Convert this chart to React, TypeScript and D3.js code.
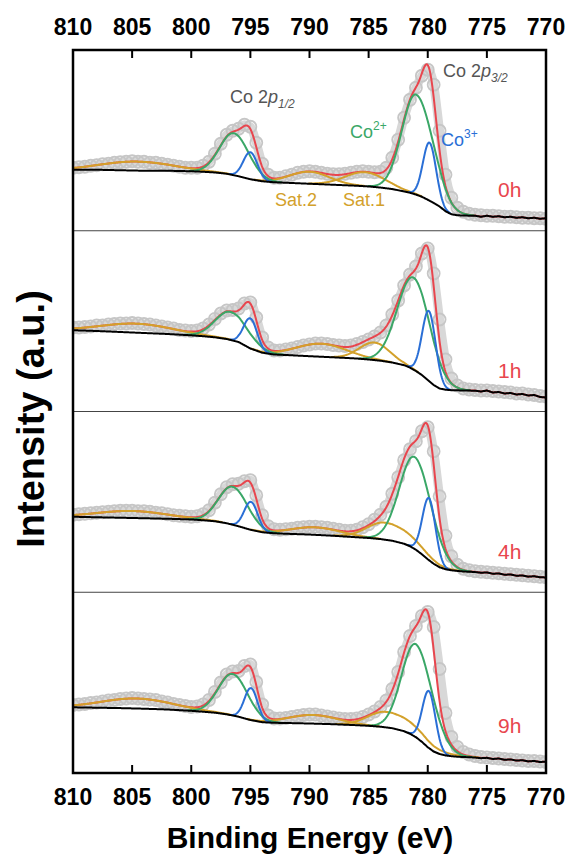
import React from "react";
import * as d3 from "d3";

// ---------- data ----------
const X_TICKS = [810, 805, 800, 795, 790, 785, 780, 775, 770];
const PANEL_LABELS = ["0h", "1h", "4h", "9h"];

// energies of the measured points: 810 -> 770 eV, step 0.5 eV
const DATA_E = d3.range(0, 81).map((i) => 810 - i * 0.5);

const DATA_0H = [
  63, 63.5, 64, 65, 65.5, 66.5, 67, 68, 68.5, 69,
  69.5, 69, 69, 68, 68, 67, 66, 65, 64, 63,
  63, 63, 65, 69, 77, 87, 96, 100, 102, 106,
  104, 88, 67, 56, 53, 53, 54.5, 56, 58, 59,
  59.5, 59, 58, 57, 56.5, 56.5, 57, 58, 59, 59.5,
  59, 58.5, 59, 63, 73, 91, 113, 131, 143, 155,
  161, 146, 100, 56, 33, 23, 19, 17, 16, 15.5,
  15, 15, 14.5, 14, 14, 13.5, 13, 13, 12.5, 12.5,
  12,
];
const DATA_1H = [
  84, 84, 84.5, 85, 86, 86, 87, 87.5, 88, 88,
  88.5, 88, 87.5, 87, 86, 85, 84, 83, 81.5, 81,
  80.5, 81, 83, 87, 92.5, 98, 101, 101.5, 103, 108,
  109, 94, 74, 64, 61, 61, 62, 63, 64.5, 66,
  67, 68, 68, 67.5, 66.5, 66, 65.5, 66, 67.5, 69.5,
  72, 75, 79, 86, 97, 111, 126, 137, 145, 158,
  163, 138, 92, 52, 33, 26, 23, 22, 21.5, 21,
  21, 20.5, 20, 19.5, 19, 18, 18, 17, 16.5, 15.5,
  15,
];
const DATA_4H = [
  77.5, 78, 78.5, 79, 79.5, 80, 80.5, 81, 81.5, 81.5,
  81.5, 81, 81, 80.5, 79.5, 79, 78, 77, 76.5, 76,
  75.5, 76, 78, 82, 89.5, 98, 105, 108, 108.5, 111,
  112, 97, 77, 66, 63, 62.5, 63, 63.5, 64.5, 65,
  65.5, 65.5, 65, 64.5, 63.5, 62.5, 61.5, 61.5, 62.5, 65,
  68, 72.5, 77.5, 85.5, 98.5, 115, 132, 143, 151, 161,
  165, 141, 96, 56.5, 36, 27.5, 23.5, 22, 21, 20.5,
  20, 19.5, 19, 18.5, 18, 17.5, 17, 16.5, 16, 15.5,
  15,
];
const DATA_9H = [
  68, 68.5, 69, 70, 70.5, 71.5, 72.5, 73, 74, 74.5,
  75, 74.5, 74, 73.5, 73, 71.5, 70.5, 69, 68, 67,
  66, 66.5, 68.5, 73, 81, 90.5, 98.5, 101.5, 102, 107,
  108.5, 91, 68.5, 57.5, 54.5, 54.5, 55, 56, 57, 58,
  58.5, 58.5, 57.5, 56.5, 55.5, 54.5, 54, 54, 54.5, 56,
  58.5, 61.5, 66, 72.5, 84, 101, 121, 137, 147, 157,
  161, 146, 104, 60, 36, 26, 21, 18.5, 17, 16,
  15.5, 15, 14.5, 14, 13.5, 13, 12.5, 12, 12, 11.5,
  11,
];

// Shirley-type background (black line)
const BG_E = [
  810, 808, 806, 804, 802, 800, 799, 798, 797, 796,
  795, 794, 793, 792, 790, 788, 786, 785, 784, 783,
  782, 781.5, 781, 780.5, 780, 779.5, 779, 778.5, 778, 777.5,
  777, 776, 775.5, 775, 774.5, 774, 773.5, 773, 772.5, 772,
  771.5, 771, 770.5, 770,
];
const BG_0H = [
  61, 61, 60.5, 60, 60, 59.5, 59, 58.3, 57, 54.5,
  51.5, 49.5, 48.5, 48, 47, 46, 45, 44.3, 43.2, 41.7,
  39.3, 38, 36.2, 34, 31, 27.8, 24.3, 19.5, 16.5, 15.5,
  15.2, 15, 14, 15, 14, 14.5, 13.5, 14, 13, 13.5,
  12.5, 13, 12, 12.5,
];
const BG_1H = [
  81.3, 80.5, 79.5, 78.5, 77.5, 76.2, 75.3, 74.2, 72.5, 69.5,
  63, 58.8, 57, 56.5, 55.3, 54.2, 53, 52, 50.8, 49,
  46.3, 43.8, 40.5, 36.5, 31.5, 26.5, 23, 21.8, 21.3, 21.2,
  21, 20.8, 20, 21, 19, 19.5, 18, 18.5, 17, 17.5,
  16, 16.5, 14.5, 14,
];
const BG_4H = [
  75.5, 75, 74.5, 74, 73.5, 72.8, 72, 71, 69, 66,
  62.5, 60, 59, 58.5, 57.7, 56.5, 55, 54.3, 53.2, 51.5,
  48.5, 46, 42.5, 38, 33, 28.5, 25, 23, 22, 21.3,
  20.8, 20.2, 19.5, 19.8, 18.5, 18.8, 17.5, 17.8, 16.5, 16.8,
  15.6, 16, 15, 14.8,
];
const BG_9H = [
  65.7, 65.3, 64.9, 64.3, 63.5, 62.2, 61.3, 60.3, 58.7, 56.3,
  53, 50.8, 50.2, 50, 49.5, 48.8, 47.8, 47.2, 46.3, 44.8,
  41.8, 39.2, 35.8, 31.2, 25.8, 21.5, 19, 17.6, 16.8, 16.3,
  16, 15.5, 14.8, 15.2, 14, 14.5, 13.2, 13.6, 12.4, 12.8,
  11.6, 12, 11, 11.4,
];

// fitted components: [centre eV, height, FWHM high-BE side, FWHM low-BE side]
const CO2_0H = [[781.0, 100, 2.8, 3.4], [796.4, 42, 2.8, 3.0]];
const CO3_0H = [[779.85, 58, 1.3, 1.3], [795.0, 27, 1.4, 1.4]];
const SAT_0H = [[785.3, 14, 4, 4], [790.0, 12, 4, 4], [804.6, 9, 7, 7]];

const CO2_1H = [[781.2, 92, 3.2, 3.3], [796.7, 28, 3.0, 3.5]];
const CO3_1H = [[779.9, 70, 1.35, 1.35], [795.0, 30, 1.35, 1.35]];
const SAT_1H = [[784.5, 17.5, 3, 3], [789.0, 13, 5, 5], [804.6, 9, 7, 7]];

const CO2_4H = [[781.1, 92, 3.0, 3.3], [796.5, 38, 2.8, 3.0]];
const CO3_4H = [[779.9, 62, 1.3, 1.3], [794.95, 28, 1.35, 1.35]];
const SAT_4H = [[783.6, 17, 3.6, 5.5], [789.5, 7.5, 5, 5], [805.0, 7, 7, 7]];

const CO2_9H = [[781.0, 93, 2.8, 3.3], [796.5, 41.5, 2.8, 3.0]];
const CO3_9H = [[779.9, 57, 1.3, 1.3], [794.95, 32, 1.3, 1.3]];
const SAT_9H = [[783.5, 15.5, 3.6, 6.5], [789.7, 8.6, 5, 5], [804.6, 10, 7, 7]];

// ---------- assembled for drawing ----------
const PANELS = [
  { label: PANEL_LABELS[0], data: DATA_0H, bg: BG_0H, co2: CO2_0H, co3: CO3_0H, sat: SAT_0H },
  { label: PANEL_LABELS[1], data: DATA_1H, bg: BG_1H, co2: CO2_1H, co3: CO3_1H, sat: SAT_1H },
  { label: PANEL_LABELS[2], data: DATA_4H, bg: BG_4H, co2: CO2_4H, co3: CO3_4H, sat: SAT_4H },
  { label: PANEL_LABELS[3], data: DATA_9H, bg: BG_9H, co2: CO2_9H, co3: CO3_9H, sat: SAT_9H },
];

const W = 571;
const H = 859;
const L = 73, R = 546, T = 50, B = 773;
const PH = (B - T) / 4;
const LABEL_H = [34, 34, 33, 40];

const RED = "#e8464e";
const GREEN = "#3aa767";
const BLUE = "#2a6fd6";
const GOLD = "#d3a12b";
const FONT = "'Liberation Sans', Arial, Helvetica, sans-serif";

const FINE_E = d3.range(0, 801).map((i) => 810 - i * 0.05);

function peak(E: number, p: number[]) {
  const [c, h, wHi, wLo] = p;
  const w = E >= c ? wHi : wLo;
  const d = (E - c) / w;
  return h * Math.exp(-4 * Math.LN2 * d * d);
}

export default function App() {
  const x = d3.scaleLinear().domain([810, 770]).range([L, R]);

  const panels = PANELS.map((p, i) => {
    const bottom = T + PH * (i + 1);
    const y = d3.scaleLinear().domain([0, PH]).range([bottom, bottom - PH]);
    const bg = d3.scaleLinear().domain(BG_E).range(p.bg).clamp(true);
    const line = d3
      .line<[number, number]>()
      .x((d) => x(d[0]))
      .y((d) => y(d[1]));
    const all = [...p.co2, ...p.co3, ...p.sat];
    const env = FINE_E.map((E) => [E, bg(E) + d3.sum(all, (q) => peak(E, q))] as [number, number]);
    const comp = (q: number[]) =>
      line(
        FINE_E.filter((E) => peak(E, q) > 0.25).map((E) => [E, bg(E) + peak(E, q)] as [number, number])
      );
    const bgLine = line(FINE_E.map((E) => [E, bg(E)] as [number, number]));
    const pts = DATA_E.map((E, k) => [E, p.data[k]] as [number, number]);
    const band = d3
      .line<[number, number]>()
      .x((d) => x(d[0]))
      .y((d) => y(d[1]))
      .curve(d3.curveMonotoneX)(pts);
    return { p, i, y, env: line(env), comp, bgLine, pts, band, bottom };
  });

  return (
    <svg
      width={W}
      height={H}
      viewBox={`0 0 ${W} ${H}`}
      style={{ position: "absolute", left: 0, top: 0, background: "#fff" }}
      fontFamily={FONT}
    >
      <defs>
        <clipPath id="plot">
          <rect x={L} y={T} width={R - L} height={B - T} />
        </clipPath>
      </defs>
      <rect x={0} y={0} width={W} height={H} fill="#fff" />
      <g clipPath="url(#plot)">
        {panels.map((pp) => (
          <g key={pp.p.label}>
            <path d={pp.band || ""} fill="none" stroke="#d8d8d8" strokeWidth={9} strokeLinejoin="round" />
            {pp.pts.map((d, k) => (
              <circle
                key={k}
                cx={x(d[0])}
                cy={pp.y(d[1])}
                r={6}
                fill="none"
                stroke="#c6c6c6"
                strokeWidth={1.8}
              />
            ))}
            <path d={pp.env || ""} fill="none" stroke={RED} strokeWidth={2} />
            {pp.p.sat.map((q, k) => (
              <path key={"s" + k} d={pp.comp(q) || ""} fill="none" stroke={GOLD} strokeWidth={2} />
            ))}
            {pp.p.co2.map((q, k) => (
              <path key={"g" + k} d={pp.comp(q) || ""} fill="none" stroke={GREEN} strokeWidth={2} />
            ))}
            {pp.p.co3.map((q, k) => (
              <path key={"b" + k} d={pp.comp(q) || ""} fill="none" stroke={BLUE} strokeWidth={2} />
            ))}
            <path d={pp.bgLine || ""} fill="none" stroke="#000" strokeWidth={2} />
          </g>
        ))}
      </g>

      {/* panel separators */}
      {[1, 2, 3].map((k) => (
        <line key={k} x1={L} x2={R} y1={T + PH * k} y2={T + PH * k} stroke="#444" strokeWidth={1} />
      ))}

      {/* frame */}
      <rect x={L} y={T} width={R - L} height={B - T} fill="none" stroke="#000" strokeWidth={2.5} />

      {/* ticks and tick labels */}
      {X_TICKS.map((t) => (
        <g key={t}>
          <line x1={x(t)} x2={x(t)} y1={T} y2={T + 8} stroke="#000" strokeWidth={2} />
          <line x1={x(t)} x2={x(t)} y1={B} y2={B - 8} stroke="#000" strokeWidth={2} />
          <text x={x(t)} y={35} textAnchor="middle" fontSize={23} fontWeight="bold">
            {t}
          </text>
          <text x={x(t)} y={805} textAnchor="middle" fontSize={23} fontWeight="bold">
            {t}
          </text>
        </g>
      ))}

      {/* axis titles */}
      <text x={310} y={848} textAnchor="middle" fontSize={30} fontWeight="bold">
        Binding Energy (eV)
      </text>
      <text transform="translate(44,419) rotate(-90)" textAnchor="middle" fontSize={38} fontWeight="bold">
        Intensity (a.u.)
      </text>

      {/* panel labels */}
      {panels.map((pp) => (
        <text key={pp.p.label} x={498} y={pp.y(LABEL_H[pp.i])} fontSize={21} fill={RED}>
          {pp.p.label}
        </text>
      ))}

      {/* peak annotations (top panel) */}
      <text x={230} y={103} fontSize={18} fill="#555">
        Co 2<tspan fontStyle="italic">p</tspan>
        <tspan fontStyle="italic" fontSize={12} dy={5}>1/2</tspan>
      </text>
      <text x={443} y={77} fontSize={18} fill="#555">
        Co 2<tspan fontStyle="italic">p</tspan>
        <tspan fontStyle="italic" fontSize={12} dy={5}>3/2</tspan>
      </text>
      <text x={350} y={138} fontSize={18} fill={GREEN}>
        Co<tspan fontSize={12} dy={-8}>2+</tspan>
      </text>
      <text x={441} y={146} fontSize={18} fill={BLUE}>
        Co<tspan fontSize={12} dy={-8}>3+</tspan>
      </text>
      <text x={275} y={206} fontSize={18} fill={GOLD}>
        Sat.2
      </text>
      <text x={343} y={206} fontSize={18} fill={GOLD}>
        Sat.1
      </text>
    </svg>
  );
}
